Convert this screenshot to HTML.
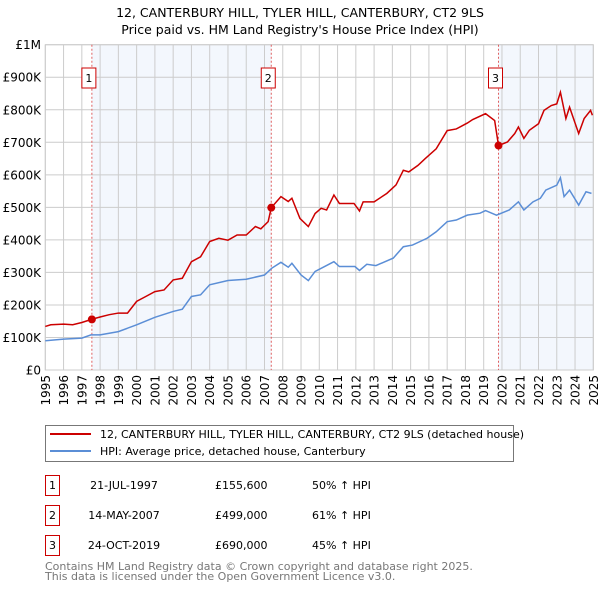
<!DOCTYPE html>
<html><head><meta charset="utf-8"><style>
body{margin:0;background:#fff;font-family:"Liberation Sans","DejaVu Sans",sans-serif}
svg text{font-family:"DejaVu Sans","Liberation Sans",sans-serif}
</style></head><body>
<svg id="c" width="600" height="590" xmlns="http://www.w3.org/2000/svg">
<text x="300" y="17" text-anchor="middle" font-size="12.5">12, CANTERBURY HILL, TYLER HILL, CANTERBURY, CT2 9LS</text>
<text x="300" y="34" text-anchor="middle" font-size="12.5">Price paid vs. HM Land Registry's House Price Index (HPI)</text>
<g id="plot"></g>
<g>
<rect x="45.5" y="425.5" width="468" height="36" fill="#fff" stroke="#777"/>
<line x1="50" y1="434" x2="91" y2="434" stroke="#cc0000" stroke-width="2"/>
<text x="100" y="438" font-size="11">12, CANTERBURY HILL, TYLER HILL, CANTERBURY, CT2 9LS (detached house)</text>
<line x1="50" y1="451" x2="91" y2="451" stroke="#5b8ed6" stroke-width="2"/>
<text x="100" y="455" font-size="11">HPI: Average price, detached house, Canterbury</text>
</g>
<g id="tbl" font-size="11"></g>
<text x="45" y="570" font-size="11" fill="#777">Contains HM Land Registry data © Crown copyright and database right 2025.</text>
<text x="45" y="580" font-size="11" fill="#777">This data is licensed under the Open Government Licence v3.0.</text>
</svg>
<script>
const yTicks=[0,100,200,300,400,500,600,700,800,900,1000];
const yTickLabels=["£0","£100K","£200K","£300K","£400K","£500K","£600K","£700K","£800K","£900K","£1M"];
const xYears=[1995,1996,1997,1998,1999,2000,2001,2002,2003,2004,2005,2006,2007,2008,2009,2010,2011,2012,2013,2014,2015,2016,2017,2018,2019,2020,2021,2022,2023,2024,2025];
const hpiT=[1995,1996,1997,1997.5,1998,1999,2000,2001,2002,2002.5,2003,2003.5,2004,2005,2006,2007,2007.4,2007.9,2008.3,2008.5,2009,2009.4,2009.77,2010.8,2011.1,2011.95,2012.2,2012.6,2013.1,2014.05,2014.6,2015.1,2015.9,2016.4,2017,2017.5,2018.1,2018.8,2019.1,2019.7,2020.4,2020.9,2021.2,2021.7,2022.1,2022.4,2023,2023.2,2023.4,2023.7,2024.2,2024.6,2024.9];
const hpiV=[90,95,98,108,108,118,139,162,180,187,226,231,262,275,279,292,313,331,316,328,292,275,303,333,318,318,306,325,321,344,379,384,405,425,456,461,476,482,490,476,492,517,492,517,528,553,568,591,533,553,507,548,543];
const priceT=[1995,1995.3,1996,1996.5,1997,1997.55,1998,1998.5,1999,1999.5,2000,2000.5,2001,2001.5,2002,2002.5,2003,2003.5,2004,2004.5,2005,2005.5,2006,2006.5,2006.8,2007.2,2007.37,2007.9,2008.3,2008.5,2008.94,2009.4,2009.77,2010.1,2010.4,2010.8,2011.1,2011.9,2012.2,2012.4,2013,2013.7,2014.2,2014.6,2014.9,2015.4,2015.8,2016.4,2017,2017.5,2018.1,2018.4,2019.1,2019.6,2019.81,2020.3,2020.7,2020.9,2021.2,2021.5,2022,2022.3,2022.7,2023,2023.2,2023.5,2023.7,2024.2,2024.5,2024.85,2024.95];
const priceV=[134,139,141,139,146,156,163,170,175,175,211,226,241,246,277,282,333,348,395,405,399,415,415,441,434,456,499,533,518,528,466,441,481,497,492,538,512,512,489,517,517,543,569,614,609,629,650,680,736,741,759,770,788,767,690,701,727,747,712,737,757,798,813,818,854,773,808,727,773,798,783];
const saleT=[1997.55,2007.37,2019.81];
const saleV=[155.6,499,690];
const saleLabels=["1","2","3"];
const saleDates=["21-JUL-1997","14-MAY-2007","24-OCT-2019"];
const salePrices=["£155,600","£499,000","£690,000"];
const salePct=["50% ↑ HPI","61% ↑ HPI","45% ↑ HPI"];
const X0=45.3,X1=593.3,Y0=370,Y1=44.7;
const xs=t=>X0+(t-1995)/30*(X1-X0);
const ys=v=>Y0-v/1000*(Y0-Y1);
const NS="http://www.w3.org/2000/svg";
const P=document.getElementById('plot');
function mk(tag,at,par){const e=document.createElementNS(NS,tag);for(const k in at)e.setAttribute(k,at[k]);(par||P).appendChild(e);return e;}
let e;
e=mk('rect',{x:xs(saleT[0]),y:Y1,width:xs(saleT[1])-xs(saleT[0]),height:Y0-Y1,fill:'#eef3fc',opacity:0.7});


e=mk('rect',{x:xs(saleT[2]),y:Y1,width:X1-xs(saleT[2]),height:Y0-Y1,fill:'#eef3fc',opacity:0.7});


yTicks.forEach((v,i)=>{
 e=mk('line',{x1:X0,x2:X1,y1:ys(v),y2:ys(v),stroke:'#ccc'});
 
 
 e=mk('text',{x:41,y:ys(v)+4.5,'text-anchor':'end','font-size':12});
 e.textContent=yTickLabels[i];
 
 
});
xYears.forEach(y=>{
 e=mk('line',{x1:xs(y),x2:xs(y),y1:Y1,y2:Y0,stroke:'#ccc'});
 
 
 e=mk('text',{x:0,y:0,'text-anchor':'end','font-size':12,transform:`translate(${xs(y)+4.5},375) rotate(-90)`});
 e.textContent=y;
 
 
});
e=mk('rect',{x:X0,y:Y1,width:X1-X0,height:Y0-Y1,fill:'none',stroke:'#ccc'});


saleT.forEach((t,i)=>{
 e=mk('line',{x1:xs(t),x2:xs(t),y1:Y1,y2:Y0,stroke:'#e06060','stroke-dasharray':'2,2'});
 
 
 e=mk('rect',{x:xs(t)-10,y:68,width:14,height:20,fill:'#fff',stroke:'#cc0000'});
 
 
 e=mk('text',{x:xs(t)-3,y:82,'text-anchor':'middle','font-size':11});
 e.textContent=saleLabels[i];
 
 
});
e=mk('polyline',{points:hpiT.map((t,i)=>xs(t)+','+ys(hpiV[i])).join(' '),fill:'none',stroke:'#5b8ed6','stroke-width':1.5});


e=mk('polyline',{points:priceT.map((t,i)=>xs(t)+','+ys(priceV[i])).join(' '),fill:'none',stroke:'#cc0000','stroke-width':1.5});


saleT.forEach((t,i)=>{
 e=mk('circle',{cx:xs(t),cy:ys(saleV[i]),r:4,fill:'#cc0000'});
 
 
});
const T=document.getElementById('tbl');
saleT.forEach((t,i)=>{
 const yy=485+i*30;
 e=mk('rect',{x:45.5,y:yy-9.5,width:14,height:20,fill:'#fff',stroke:'#cc0000'},T);
 
 
 const cells=[[52.5,saleLabels[i],'middle'],[124,saleDates[i],'middle'],[215,salePrices[i],'start'],[312,salePct[i],'start']];
 cells.forEach(c=>{
  e=mk('text',{x:c[0],y:yy+4,'text-anchor':c[2]},T);
  e.textContent=c[1];
  
  
 });
});
</script>
</body></html>
